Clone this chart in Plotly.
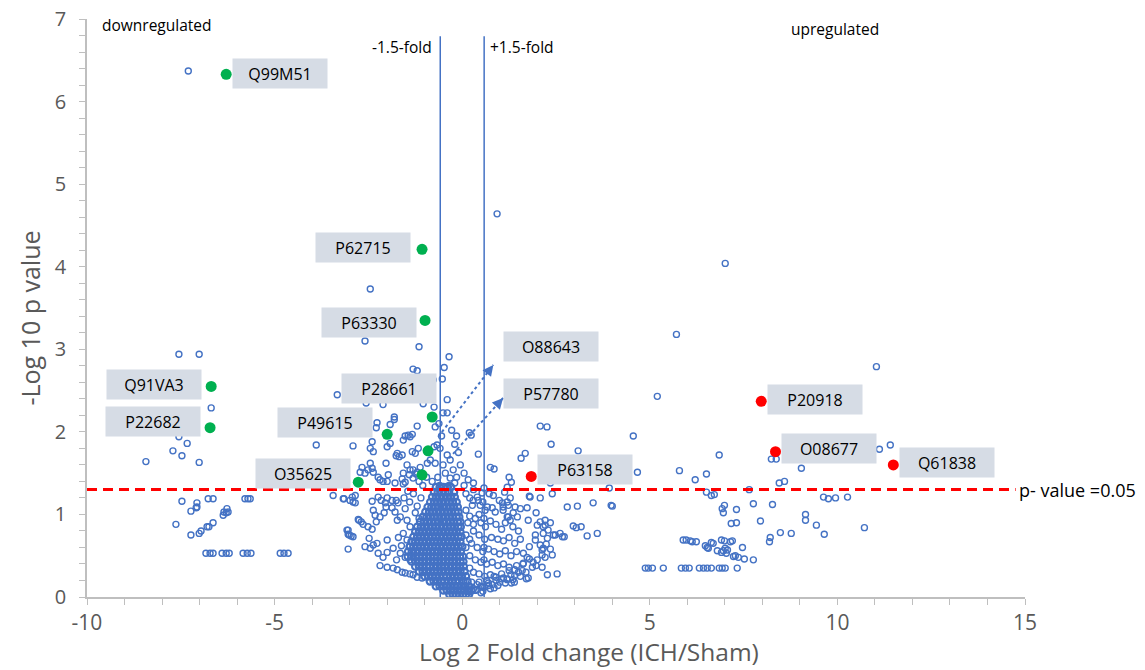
import plotly.graph_objects as go

# ---------------- data ----------------
# highlighted proteins: downregulated (green) and upregulated (red)
down_ids = ["Q99M51", "P62715", "P63330", "Q91VA3", "P22682", "P28661",
            "P49615", "O88643", "P57780", "O35625"]
down_x = [-6.29, -1.07, -0.99, -6.69, -6.72, -0.80, -2.00, -0.91, -1.07, -2.77]
down_y = [6.33, 4.21, 3.35, 2.55, 2.05, 2.18, 1.97, 1.77, 1.48, 1.39]

up_ids = ["P20918", "O08677", "Q61838", "P63158"]
up_x = [7.97, 8.35, 11.49, 1.84]
up_y = [2.37, 1.76, 1.60, 1.46]

# all other proteins (blue open circles), grouped by region
far_left = [(-7.3, 6.37), (-7.55, 2.94), (-7.01, 2.94), (-6.69, 2.29), (-7.55, 1.94),
            (-7.33, 1.86), (-7.71, 1.77), (-7.47, 1.71), (-7.01, 1.63), (-8.43, 1.64),
            (-7.47, 1.16), (-7.23, 1.04), (-7.07, 1.14), (-7.07, 1.09), (-7.09, 1.08),
            (-6.77, 1.19), (-6.64, 1.19), (-7.63, 0.88), (-7.23, 0.75), (-7.01, 0.77),
            (-6.96, 0.80), (-6.8, 0.85), (-6.75, 0.85), (-6.64, 0.90), (-6.37, 0.99),
            (-6.35, 1.03), (-6.27, 1.07), (-6.29, 1.02), (-6.24, 1.03), (-5.79, 1.19),
            (-5.71, 1.19), (-5.65, 1.19), (-6.83, 0.53), (-6.72, 0.53), (-6.64, 0.53),
            (-6.40, 0.53), (-6.29, 0.53), (-6.21, 0.53), (-5.84, 0.53), (-5.73, 0.53),
            (-5.63, 0.53), (-4.85, 0.53), (-4.75, 0.53), (-4.64, 0.53)]

upper = [(0.93, 4.64), (7.01, 4.04), (-2.45, 3.73), (-2.59, 3.10), (-1.15, 3.03),
         (-0.35, 2.91), (-0.48, 2.78), (-1.31, 2.76), (-1.2, 2.74), (-0.53, 2.64),
         (-0.77, 2.63), (-3.33, 2.45), (5.71, 3.18), (5.2, 2.43), (11.04, 2.79),
         (-0.4, 2.39), (-2.11, 2.33), (-0.75, 2.30), (-0.51, 2.23), (-0.4, 2.23),
         (-1.04, 2.34), (-1.81, 2.18), (-2.56, 2.35), (-0.72, 2.06)]

left_above = [(-3.89, 1.84), (-2.91, 1.83), (-2.27, 2.11), (-2.29, 2.05), (-1.92, 2.09),
              (-1.81, 2.15), (-2.4, 1.88), (-2.45, 1.80), (-2.37, 1.76), (-1.2, 2.07),
              (-1.44, 1.96), (-1.33, 1.97), (-1.92, 1.86), (-2.0, 1.82), (-1.73, 1.74),
              (-1.6, 1.72), (-2.03, 1.62), (-1.97, 1.48), (-1.47, 1.60), (-1.39, 1.54),
              (-1.57, 1.50), (-1.41, 1.48), (-1.31, 1.44), (-2.72, 1.51), (-2.59, 1.50),
              (-2.51, 1.54), (-2.4, 1.56), (-2.37, 1.51), (-2.24, 1.45), (-2.19, 1.42),
              (-2.11, 1.40), (-2.0, 1.40), (-1.79, 1.38), (-1.6, 1.43), (-1.52, 1.39),
              (-1.57, 1.37), (-1.31, 1.54), (-1.2, 1.51), (-1.12, 1.57), (-0.93, 1.62),
              (-0.85, 1.66), (-0.72, 1.62), (-0.75, 1.82), (-0.67, 1.84), (-0.59, 1.80),
              (-0.4, 1.72), (-0.32, 1.66), (-0.51, 1.6), (-0.24, 1.54), (-0.32, 1.44),
              (-0.45, 1.5), (0.19, 1.99), (-1.33, 1.76), (-1.25, 1.74), (-1.17, 1.80),
              (-1.76, 1.71), (-1.68, 1.70), (-1.57, 1.90), (-1.52, 1.95), (-1.39, 1.94),
              (-2.67, 1.57), (-1.23, 1.49), (-2.45, 1.62), (-0.15, 1.95), (-0.2, 1.85),
              (-0.1, 1.75), (-0.55, 1.95), (-0.62, 2.1), (-0.28, 2.02), (-0.05, 1.6),
              (-0.15, 1.45), (-0.65, 1.45), (-0.8, 1.4), (-0.95, 1.45), (-0.6, 1.35),
              (-0.35, 1.35), (-1.05, 1.35), (-0.2, 1.38), (-1.15, 1.4)]

left_below = [(-3.44, 1.23), (-3.15, 1.19), (-2.99, 1.17), (-2.91, 1.15), (-2.85, 1.14),
              (-3.04, 0.81), (-3.04, 0.76), (-2.96, 0.74), (-3.04, 0.58), (-2.75, 0.93),
              (-3.17, 1.19), (-2.93, 1.21), (-2.85, 1.23), (-2.4, 1.16), (-2.37, 1.05),
              (-2.32, 0.99), (-2.24, 1.21), (-2.16, 1.17), (-2.05, 1.14), (-2.0, 1.20),
              (-1.87, 1.17), (-1.76, 1.17), (-1.71, 1.14), (-2.77, 0.94), (-2.69, 0.91),
              (-2.64, 0.88), (-2.51, 0.85), (-2.4, 0.82), (-2.29, 0.91), (-2.19, 0.97),
              (-2.08, 1.02), (-2.03, 1.09), (-1.87, 1.08), (-1.79, 1.03), (-1.73, 0.93),
              (-1.65, 0.97), (-1.52, 1.07), (-1.47, 0.93), (-1.39, 0.85), (-3.07, 0.81),
              (-3.01, 0.75), (-2.91, 0.73), (-2.59, 0.61), (-2.45, 0.59), (-2.48, 0.71),
              (-2.37, 0.63), (-2.27, 0.65), (-2.24, 0.53), (-2.11, 0.48), (-2.0, 0.69),
              (-2.0, 0.54), (-1.84, 0.59), (-2.19, 0.38), (-2.0, 0.36), (-1.84, 0.35),
              (-1.73, 0.33), (-1.6, 0.30), (-1.52, 0.29), (-1.39, 0.28), (-1.31, 0.27),
              (-1.2, 0.24), (-1.07, 0.23), (-1.57, 0.77), (-1.47, 0.69), (-1.39, 0.61),
              (-1.65, 0.53), (-1.52, 0.48), (-1.39, 0.45), (-1.31, 0.53), (-1.75, 0.45),
              (-1.62, 0.62), (-1.7, 0.72), (-1.55, 1.2), (-1.4, 1.15), (-1.3, 1.25),
              (-1.2, 1.1), (-1.1, 1.2), (-1.25, 1.02), (-1.15, 0.95), (-1.45, 1.28)]

mid_right_above = [(0.24, 1.96), (0.43, 1.73), (0.16, 1.42), (0.75, 1.57), (0.85, 1.55),
                   (1.25, 1.45), (1.31, 1.39), (1.57, 1.68), (1.68, 1.74), (2.08, 2.07),
                   (2.26, 2.06), (2.37, 1.85), (3.09, 1.77), (4.56, 1.95), (4.67, 1.51),
                   (2.35, 1.38), (1.2, 1.33), (3.92, 1.32), (0.05, 1.5), (0.3, 1.38)]

far_right = [(6.85, 1.72), (5.79, 1.53), (6.21, 1.42), (6.51, 1.49), (11.12, 1.79),
             (11.41, 1.84), (8.24, 1.67), (8.37, 1.67), (9.04, 1.56), (8.45, 1.38),
             (8.59, 1.40), (9.63, 1.21), (9.76, 1.19), (9.95, 1.20), (10.27, 1.21),
             (6.51, 1.27), (6.64, 1.23), (6.72, 1.24), (7.65, 1.30), (4.0, 1.10),
             (6.99, 1.11), (6.93, 1.07), (6.96, 1.02), (7.31, 1.06), (7.76, 1.13),
             (8.27, 1.12), (7.17, 0.89), (7.31, 0.90), (7.95, 0.92), (9.15, 1.0),
             (9.15, 0.93), (9.44, 0.87), (9.65, 0.76), (10.72, 0.84), (8.48, 0.78),
             (8.77, 0.77), (8.21, 0.72), (8.19, 0.67), (5.89, 0.69), (5.97, 0.69),
             (6.08, 0.68), (6.13, 0.67), (6.24, 0.67), (6.48, 0.62), (6.53, 0.60),
             (6.56, 0.59), (6.64, 0.66), (6.69, 0.65), (6.91, 0.69), (6.99, 0.68),
             (7.15, 0.67), (7.2, 0.68), (6.8, 0.56), (6.91, 0.54), (6.96, 0.56),
             (7.04, 0.53), (7.01, 0.59), (7.07, 0.57), (7.23, 0.49), (7.28, 0.50),
             (7.36, 0.48), (7.52, 0.46), (7.76, 0.45), (7.47, 0.60),
             (4.88, 0.35), (4.96, 0.35), (5.07, 0.35), (5.36, 0.35), (5.84, 0.35),
             (5.95, 0.35), (6.05, 0.35), (6.32, 0.35), (6.43, 0.35), (6.53, 0.35),
             (6.64, 0.35), (6.85, 0.35), (6.93, 0.35), (7.01, 0.35), (7.33, 0.35)]

right_below = [(1.79, 1.22), (1.81, 1.21), (0.72, 1.25), (0.83, 1.23), (0.53, 1.26),
               (0.29, 1.17), (0.27, 1.11), (0.61, 1.05), (0.8, 1.08), (0.88, 1.03),
               (0.99, 1.17), (1.07, 1.14), (1.09, 1.09), (1.2, 1.15), (1.23, 1.11),
               (1.28, 1.2), (1.2, 0.97), (1.28, 0.93), (1.47, 0.97), (1.55, 1.07),
               (1.73, 1.08), (1.97, 1.02), (2.08, 0.91), (2.21, 0.87), (2.35, 0.9),
               (2.48, 0.75), (2.61, 0.77), (2.72, 0.73), (2.0, 0.87), (2.16, 0.77),
               (2.27, 0.71), (2.8, 1.09), (3.07, 1.1), (3.49, 1.14), (3.97, 1.11),
               (2.96, 0.86), (3.04, 0.84), (3.17, 0.85), (3.33, 0.74), (3.6, 0.77),
               (1.95, 0.69), (1.79, 0.61), (1.63, 0.53), (1.73, 0.48), (2.08, 0.63),
               (2.13, 0.57), (2.24, 0.64), (2.35, 0.58), (2.13, 0.51), (2.0, 0.45),
               (1.87, 0.36), (1.76, 0.23), (1.71, 0.22), (2.13, 0.36), (2.27, 0.27),
               (2.53, 0.28), (1.2, 0.21), (1.31, 0.17), (1.39, 0.18), (1.97, 0.38),
               (2.4, 0.51), (2.21, 0.48), (2.16, 0.59), (1.89, 0.42), (1.79, 0.46),
               (1.63, 0.41), (1.95, 0.75), (2.16, 0.85), (2.29, 0.81), (2.43, 0.75),
               (2.67, 0.73), (2.21, 0.93), (1.76, 0.93), (1.41, 1.09), (1.09, 1.05),
               (1.23, 0.97), (1.36, 1.02), (0.67, 1.09), (0.48, 1.11), (0.43, 1.17),
               (0.4, 1.21), (2.08, 1.2), (2.4, 1.25), (1.13, 1.27), (0.1, 1.25),
               (0.2, 1.2), (0.1, 1.05), (0.2, 0.98), (0.15, 0.9), (0.3, 0.88),
               (0.1, 0.75), (0.2, 0.7), (0.1, 0.6), (0.45, 1.0), (0.55, 1.15),
               (0.05, 1.35), (0.3, 1.3), (0.58, 1.32), (0.58, 0.95), (0.58, 0.6),
               (0.58, 0.45)]

right_inner = [(0.35, 0.95), (0.5, 0.9), (0.62, 0.85), (0.75, 0.92), (0.9, 0.88),
               (1.05, 0.82), (1.15, 0.9), (1.35, 0.85), (1.5, 0.8), (0.3, 0.8),
               (0.45, 0.75), (0.6, 0.7), (0.78, 0.72), (0.95, 0.7), (1.1, 0.68),
               (1.25, 0.72), (1.4, 0.65), (1.55, 0.7), (0.25, 0.65), (0.4, 0.6),
               (0.55, 0.55), (0.7, 0.58), (0.85, 0.55), (1.0, 0.52), (1.15, 0.56),
               (1.3, 0.5), (1.45, 0.55), (0.2, 0.5), (0.35, 0.45), (0.5, 0.42),
               (0.65, 0.4), (0.8, 0.42), (0.95, 0.38), (1.1, 0.4), (1.25, 0.36),
               (1.4, 0.33), (0.2, 0.35), (0.3, 0.3), (0.45, 0.28), (0.6, 0.25),
               (0.75, 0.27), (0.9, 0.24), (1.05, 0.22), (0.25, 0.18), (0.4, 0.15),
               (0.55, 0.12), (0.7, 0.14), (0.85, 0.11), (0.35, 0.08), (0.5, 0.05),
               (0.18, 0.08), (0.2, 0.06), (0.3, 0.1), (0.4, 0.09), (0.5, 0.13),
               (0.6, 0.12), (0.7, 0.17), (0.8, 0.15), (0.9, 0.2), (1.0, 0.18),
               (1.1, 0.23), (1.2, 0.22), (1.3, 0.27), (1.4, 0.26), (1.5, 0.3),
               (1.6, 0.32), (0.45, 0.18), (0.65, 0.2), (0.85, 0.25), (1.05, 0.28),
               (1.25, 0.32), (1.45, 0.38), (1.62, 0.4), (0.55, 0.07), (0.75, 0.1),
               (0.95, 0.14), (1.15, 0.17), (1.35, 0.21), (1.55, 0.25), (1.7, 0.3)]

# dense core of non-changing proteins: y level -> x values
core_rows = {
    0.03: [-0.34, -0.25, -0.16, -0.07, 0.02, 0.10, 0.18],
    0.08: [-0.50, -0.41, -0.31, -0.22, -0.12, -0.03, 0.06, 0.15, 0.25],
    0.13: [-0.70, -0.60, -0.50, -0.41, -0.31, -0.21, -0.12, -0.02, 0.08, 0.19],
    0.19: [-0.86, -0.76, -0.66, -0.56, -0.47, -0.37, -0.27, -0.17, -0.08, 0.03, 0.14],
    0.25: [-1.00, -0.90, -0.80, -0.70, -0.60, -0.50, -0.41, -0.31, -0.21, -0.11, -0.01, 0.10],
    0.31: [-1.15, -1.05, -0.95, -0.85, -0.75, -0.65, -0.55, -0.45, -0.35, -0.25, -0.15, -0.05, 0.06],
    0.37: [-1.25, -1.15, -1.05, -0.95, -0.86, -0.76, -0.66, -0.56, -0.46, -0.36, -0.26, -0.16, -0.06, 0.04],
    0.43: [-1.35, -1.25, -1.15, -1.05, -0.95, -0.85, -0.75, -0.65, -0.55, -0.45, -0.35, -0.25, -0.15, -0.05, 0.03],
    0.49: [-1.45, -1.35, -1.25, -1.15, -1.05, -0.95, -0.85, -0.75, -0.65, -0.55, -0.45, -0.35, -0.25, -0.15, -0.06, 0.02],
    0.55: [-1.44, -1.34, -1.24, -1.14, -1.04, -0.94, -0.84, -0.74, -0.64, -0.54, -0.44, -0.34, -0.24, -0.14, -0.04],
    0.61: [-1.40, -1.30, -1.20, -1.10, -1.00, -0.90, -0.80, -0.70, -0.60, -0.50, -0.40, -0.30, -0.20, -0.10, 0.00],
    0.67: [-1.35, -1.25, -1.15, -1.05, -0.95, -0.85, -0.75, -0.65, -0.55, -0.45, -0.35, -0.25, -0.15, -0.05],
    0.73: [-1.30, -1.20, -1.10, -1.00, -0.90, -0.80, -0.70, -0.60, -0.50, -0.40, -0.30, -0.20, -0.10, -0.02],
    0.79: [-1.25, -1.15, -1.05, -0.95, -0.85, -0.75, -0.65, -0.55, -0.45, -0.35, -0.25, -0.15, -0.05],
    0.85: [-1.20, -1.10, -1.00, -0.90, -0.80, -0.70, -0.60, -0.50, -0.40, -0.30, -0.20, -0.10, -0.04],
    0.91: [-1.12, -1.02, -0.92, -0.82, -0.72, -0.62, -0.52, -0.42, -0.32, -0.22, -0.12, -0.05],
    0.97: [-1.05, -0.95, -0.85, -0.75, -0.65, -0.55, -0.45, -0.35, -0.25, -0.15, -0.08],
    1.03: [-0.98, -0.88, -0.78, -0.68, -0.58, -0.48, -0.38, -0.28, -0.18, -0.10],
    1.09: [-0.92, -0.82, -0.72, -0.62, -0.52, -0.42, -0.32, -0.22, -0.12],
    1.15: [-0.85, -0.75, -0.65, -0.55, -0.45, -0.35, -0.25, -0.15],
    1.21: [-0.80, -0.70, -0.60, -0.50, -0.40, -0.30, -0.20],
    1.27: [-0.75, -0.65, -0.55, -0.45, -0.35, -0.22],
    1.33: [-0.70, -0.60, -0.50, -0.40, -0.30],
}

x_ticks = [-10, -5, 0, 5, 10, 15]
y_ticks = [0, 1, 2, 3, 4, 5, 6, 7]
fold_cut = 0.585      # log2(1.5)
p_cut = 1.301         # -log10(0.05)

# ---------------- build ----------------
BLUE = "#4472c4"
GREY_TXT = "#595959"
AX = "#bfbfbf"
FONT = "Open Sans"

bx, by = [], []
for grp in (far_left, upper, left_above, left_below, mid_right_above, far_right,
            right_below, right_inner):
    for px, py in grp:
        bx.append(px)
        by.append(py)
cx_, cy_ = [], []
for yv, xs in core_rows.items():
    for xv in xs:
        cx_.append(xv)
        cy_.append(yv)

fig = go.Figure()
fig.add_trace(go.Scatter(x=cx_, y=cy_, mode="markers",
                         marker=dict(symbol="circle-open", size=6.5, color=BLUE,
                                     line=dict(width=2.2, color=BLUE)),
                         hoverinfo="skip", cliponaxis=False))
fig.add_trace(go.Scatter(x=bx, y=by, mode="markers",
                         marker=dict(symbol="circle-open", size=6, color=BLUE,
                                     line=dict(width=1.4, color=BLUE)),
                         hoverinfo="skip", cliponaxis=False))
fig.add_trace(go.Scatter(x=down_x, y=down_y, mode="markers", text=down_ids,
                         marker=dict(symbol="circle", size=11, color="#00b050")))
fig.add_trace(go.Scatter(x=up_x, y=up_y, mode="markers", text=up_ids,
                         marker=dict(symbol="circle", size=11, color="#ff0000")))

# label box centres (data units)
box_pos = {
    "Q99M51": (-4.85, 6.34), "P62715": (-2.64, 4.23), "P63330": (-2.49, 3.33),
    "Q91VA3": (-8.21, 2.57), "P22682": (-8.23, 2.12), "P28661": (-1.96, 2.52),
    "P49615": (-3.65, 2.11), "O35625": (-4.23, 1.49), "O88643": (2.36, 3.03),
    "P57780": (2.36, 2.47), "P63158": (3.28, 1.55), "P20918": (9.40, 2.39),
    "O08677": (9.77, 1.80), "Q61838": (12.91, 1.63),
}
ann = []
for name, (bxc, byc) in box_pos.items():
    ann.append(dict(x=bxc, y=byc, xref="x", yref="y", text=name, showarrow=False,
                    bgcolor="#d6dce5", width=94, height=29, borderpad=0,
                    font=dict(family=FONT, size=16, color="black")))

txt = dict(family=FONT, size=15.5, color="black")
ann += [
    dict(x=-9.65, y=6.93, xref="x", yref="y", text="downregulated", showarrow=False,
         xanchor="left", font=txt),
    dict(x=8.72, y=6.88, xref="x", yref="y", text="upregulated", showarrow=False,
         xanchor="left", font=txt),
    dict(x=-0.75, y=6.66, xref="x", yref="y", text="-1.5-fold", showarrow=False,
         xanchor="right", font=txt),
    dict(x=0.68, y=6.66, xref="x", yref="y", text="+1.5-fold", showarrow=False,
         xanchor="left", font=txt),
    dict(x=14.78, y=p_cut, xref="x", yref="y", text="p- value =0.05", showarrow=False,
         xanchor="left", font=dict(family=FONT, size=18, color="black")),
    dict(x=-0.061, y=0.483, xref="paper", yref="paper", text="-Log 10 p value",
         showarrow=False, textangle=-90, xanchor="center", yanchor="middle",
         font=dict(family=FONT, size=25, color=GREY_TXT)),
    dict(x=0.535, y=-0.095, xref="paper", yref="paper", text="Log 2 Fold change (ICH/Sham)",
         showarrow=False, xanchor="center", yanchor="middle",
         font=dict(family=FONT, size=24.5, color=GREY_TXT)),
]

# dotted arrows from two highlighted points to their labels
arrows = [((-0.64, 1.94), (0.83, 2.81)), ((-0.35, 1.68), (1.09, 2.41))]
shapes = []
for (tx, ty), (hx, hy) in arrows:
    shapes.append(dict(type="line", x0=tx, y0=ty, x1=hx, y1=hy, xref="x", yref="y",
                       line=dict(color=BLUE, width=2, dash="dot")))
    ann.append(dict(x=hx, y=hy, ax=hx - (hx - tx) * 0.12, ay=hy - (hy - ty) * 0.12,
                    xref="x", yref="y", axref="x", ayref="y", text="", showarrow=True,
                    arrowhead=2, arrowsize=1.2, arrowwidth=1.8, arrowcolor=BLUE))

shapes += [
    dict(type="line", x0=-fold_cut, x1=-fold_cut, y0=0, y1=6.79, xref="x", yref="y",
         line=dict(color=BLUE, width=1.5)),
    dict(type="line", x0=fold_cut, x1=fold_cut, y0=0, y1=6.79, xref="x", yref="y",
         line=dict(color=BLUE, width=1.5)),
    dict(type="line", x0=-10, x1=14.75, y0=p_cut, y1=p_cut, xref="x", yref="y",
         line=dict(color="#ff0000", width=3, dash="10px,6px")),
]

# the page adds an 8px body margin, so the figure is 8px smaller on each axis
fig.update_layout(
    width=1137, height=662,
    margin=dict(l=79, r=120, t=11, b=73, autoexpand=False),
    plot_bgcolor="white", paper_bgcolor="white",
    showlegend=False,
    annotations=ann, shapes=shapes,
    font=dict(family=FONT, color=GREY_TXT),
)
fig.update_xaxes(range=[-10, 15], tickvals=x_ticks, ticktext=[str(v) for v in x_ticks],
                 showgrid=False, zeroline=False, showline=True, linecolor=AX, linewidth=1.5,
                 ticks="outside", ticklen=6, tickcolor=AX, tickwidth=1,
                 minor=dict(dtick=1, ticks="outside", ticklen=6, tickcolor=AX, showgrid=False),
                 tickfont=dict(family=FONT, size=21, color=GREY_TXT), ticklabelstandoff=0,
                 ticklabeloverflow="allow", automargin=False)
fig.update_yaxes(range=[0, 7], tickvals=y_ticks, ticktext=[str(v) for v in y_ticks],
                 showgrid=False, zeroline=False, showline=True, linecolor=AX, linewidth=1.5,
                 ticks="outside", ticklen=6, tickcolor=AX, tickwidth=1,
                 minor=dict(dtick=0.2, ticks="outside", ticklen=6, tickcolor=AX, showgrid=False),
                 tickfont=dict(family=FONT, size=20, color=GREY_TXT), ticklabelstandoff=9,
                 ticklabeloverflow="allow", automargin=False)

fig.write_html("out.html")
